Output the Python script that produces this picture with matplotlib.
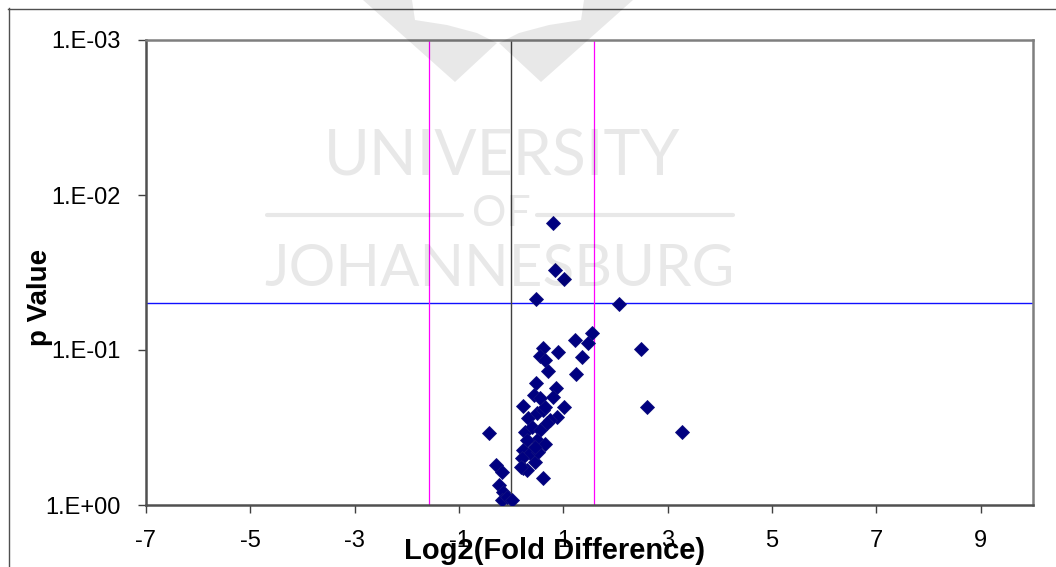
import matplotlib
matplotlib.use("Agg")
import numpy as np
from matplotlib import pyplot as plt
from matplotlib.lines import Line2D
from matplotlib.patches import Polygon

# log2 fold difference and p value of each gene
log2_fold = [0.81, 0.84, 1.02, 0.48, 2.06, 1.54, 1.22, 1.48, 0.61, 0.89,
             0.55, 0.65, 1.35, 2.49, 0.70, 1.25, 0.47, 0.86, 0.44, 0.55,
             0.81, 0.22, 1.02, 2.61, 0.87, 0.33, 0.49, 0.61, 0.74, -0.43,
             3.27, 0.26, 0.39, 0.55, 0.49, 0.65, 0.30, 0.23, 0.36, 0.20,
             0.46, 0.23, 0.30, 0.60, -0.29, -0.18, -0.23, -0.16, -0.18, -0.09,
             0.01, 0.68, 0.52, 0.45, 0.65, 0.19]
p_value = [0.0152, 0.0305, 0.0348, 0.0471, 0.0505, 0.078, 0.086, 0.0905, 0.0975, 0.1035,
           0.110, 0.116, 0.1114, 0.0986, 0.136, 0.143, 0.1625, 0.175, 0.195, 0.205,
           0.200, 0.2287, 0.234, 0.233, 0.269, 0.276, 0.256, 0.244, 0.283, 0.342,
           0.338, 0.3365, 0.3126, 0.328, 0.381, 0.404, 0.381, 0.4416, 0.464, 0.50,
           0.526, 0.58, 0.594, 0.673, 0.552, 0.61, 0.743, 0.82, 0.929, 0.884,
           0.929, 0.297, 0.453, 0.42, 0.232, 0.566]

x_ticks = [-7, -5, -3, -1, 1, 3, 5, 7, 9]
y_ticks = [1e-3, 1e-2, 1e-1, 1]
y_tick_labels = ["1.E-03", "1.E-02", "1.E-01", "1.E+00"]

p_cutoff = 0.05
fold_cutoff = np.log2(3)

W, H = 1056, 567
fig = plt.figure(figsize=(W / 100, H / 100), dpi=100)
plt.rcParams["font.family"] = ["Liberation Sans", "DejaVu Sans"]

ax = fig.add_axes([146 / W, 1 - 505 / H, 887 / W, 465 / H])
ax.set_yscale("log")

ax.axhline(p_cutoff, color="#1010ff", lw=1.0, zorder=2)
ax.axvline(0, color="#404040", lw=1.0, zorder=2)
ax.axvline(-fold_cutoff, color="#ff00ff", lw=0.9, zorder=2)
ax.axvline(fold_cutoff, color="#ff00ff", lw=0.9, zorder=2)

ax.plot(log2_fold, p_value, "D", color="#000080", ms=7.5, mec="#10107f",
        mew=0.6, ls="none", zorder=3)

ax.set_xlim(-7, 10)
ax.set_ylim(1, 1e-3)
ax.set_xticks(x_ticks)
ax.set_xticklabels([str(t) for t in x_ticks])
ax.set_yticks(y_ticks)
ax.set_yticklabels(y_tick_labels)
ax.yaxis.set_minor_locator(matplotlib.ticker.NullLocator())
ax.tick_params(axis="both", direction="out", length=6, width=1, color="#404040",
               labelsize=17, pad=12)

for side in ax.spines.values():
    side.set_color("#7f7f7f")
    side.set_linewidth(1.8)
ax.spines["left"].set_color("#505050")
ax.spines["bottom"].set_color("#505050")

fig.text(555 / W, 1 - 551 / H, "Log2(Fold Difference)", ha="center", va="center",
         fontsize=21, fontweight="bold")
fig.text(40 / W, 1 - 297 / H, "p Value", ha="center", va="center", rotation=90,
         fontsize=20, fontweight="bold")

# chart area border (top and left edges)
fig.add_artist(Line2D([8 / W, 1], [1 - 8.5 / H, 1 - 8.5 / H], color="#505050", lw=1))
fig.add_artist(Line2D([8.5 / W, 8.5 / W], [0, 1 - 8 / H], color="#505050", lw=1))

# watermark
shade = dict(color="black", alpha=0.09, zorder=10)
fig.text(502 / W, 1 - 158 / H, "UNIVERSITY", ha="center", va="center",
         fontsize=45, family="Lato", **shade)
fig.text(501 / W, 1 - 214 / H, "OF", ha="center", va="center",
         fontsize=31, family="Lato", **shade)
fig.text(499 / W, 1 - 270 / H, "JOHANNESBURG", ha="center", va="center",
         fontsize=42, family="Lato", **shade)
for x0, x1 in [(267, 462), (537, 733)]:
    fig.add_artist(Line2D([x0 / W, x1 / W], [1 - 215 / H, 1 - 215 / H], lw=3,
                          solid_capstyle="round", **shade))

wing = [(363, 0), (412, 0), (415, 20), (447, 25), (477, 33), (497, 43), (455, 82)]
for pts in (wing, [(996 - px, py) for px, py in wing]):
    fig.add_artist(Polygon([(px / W, 1 - py / H) for px, py in pts], closed=True,
                           lw=0, **shade))

fig.savefig("out.png", dpi=100)
